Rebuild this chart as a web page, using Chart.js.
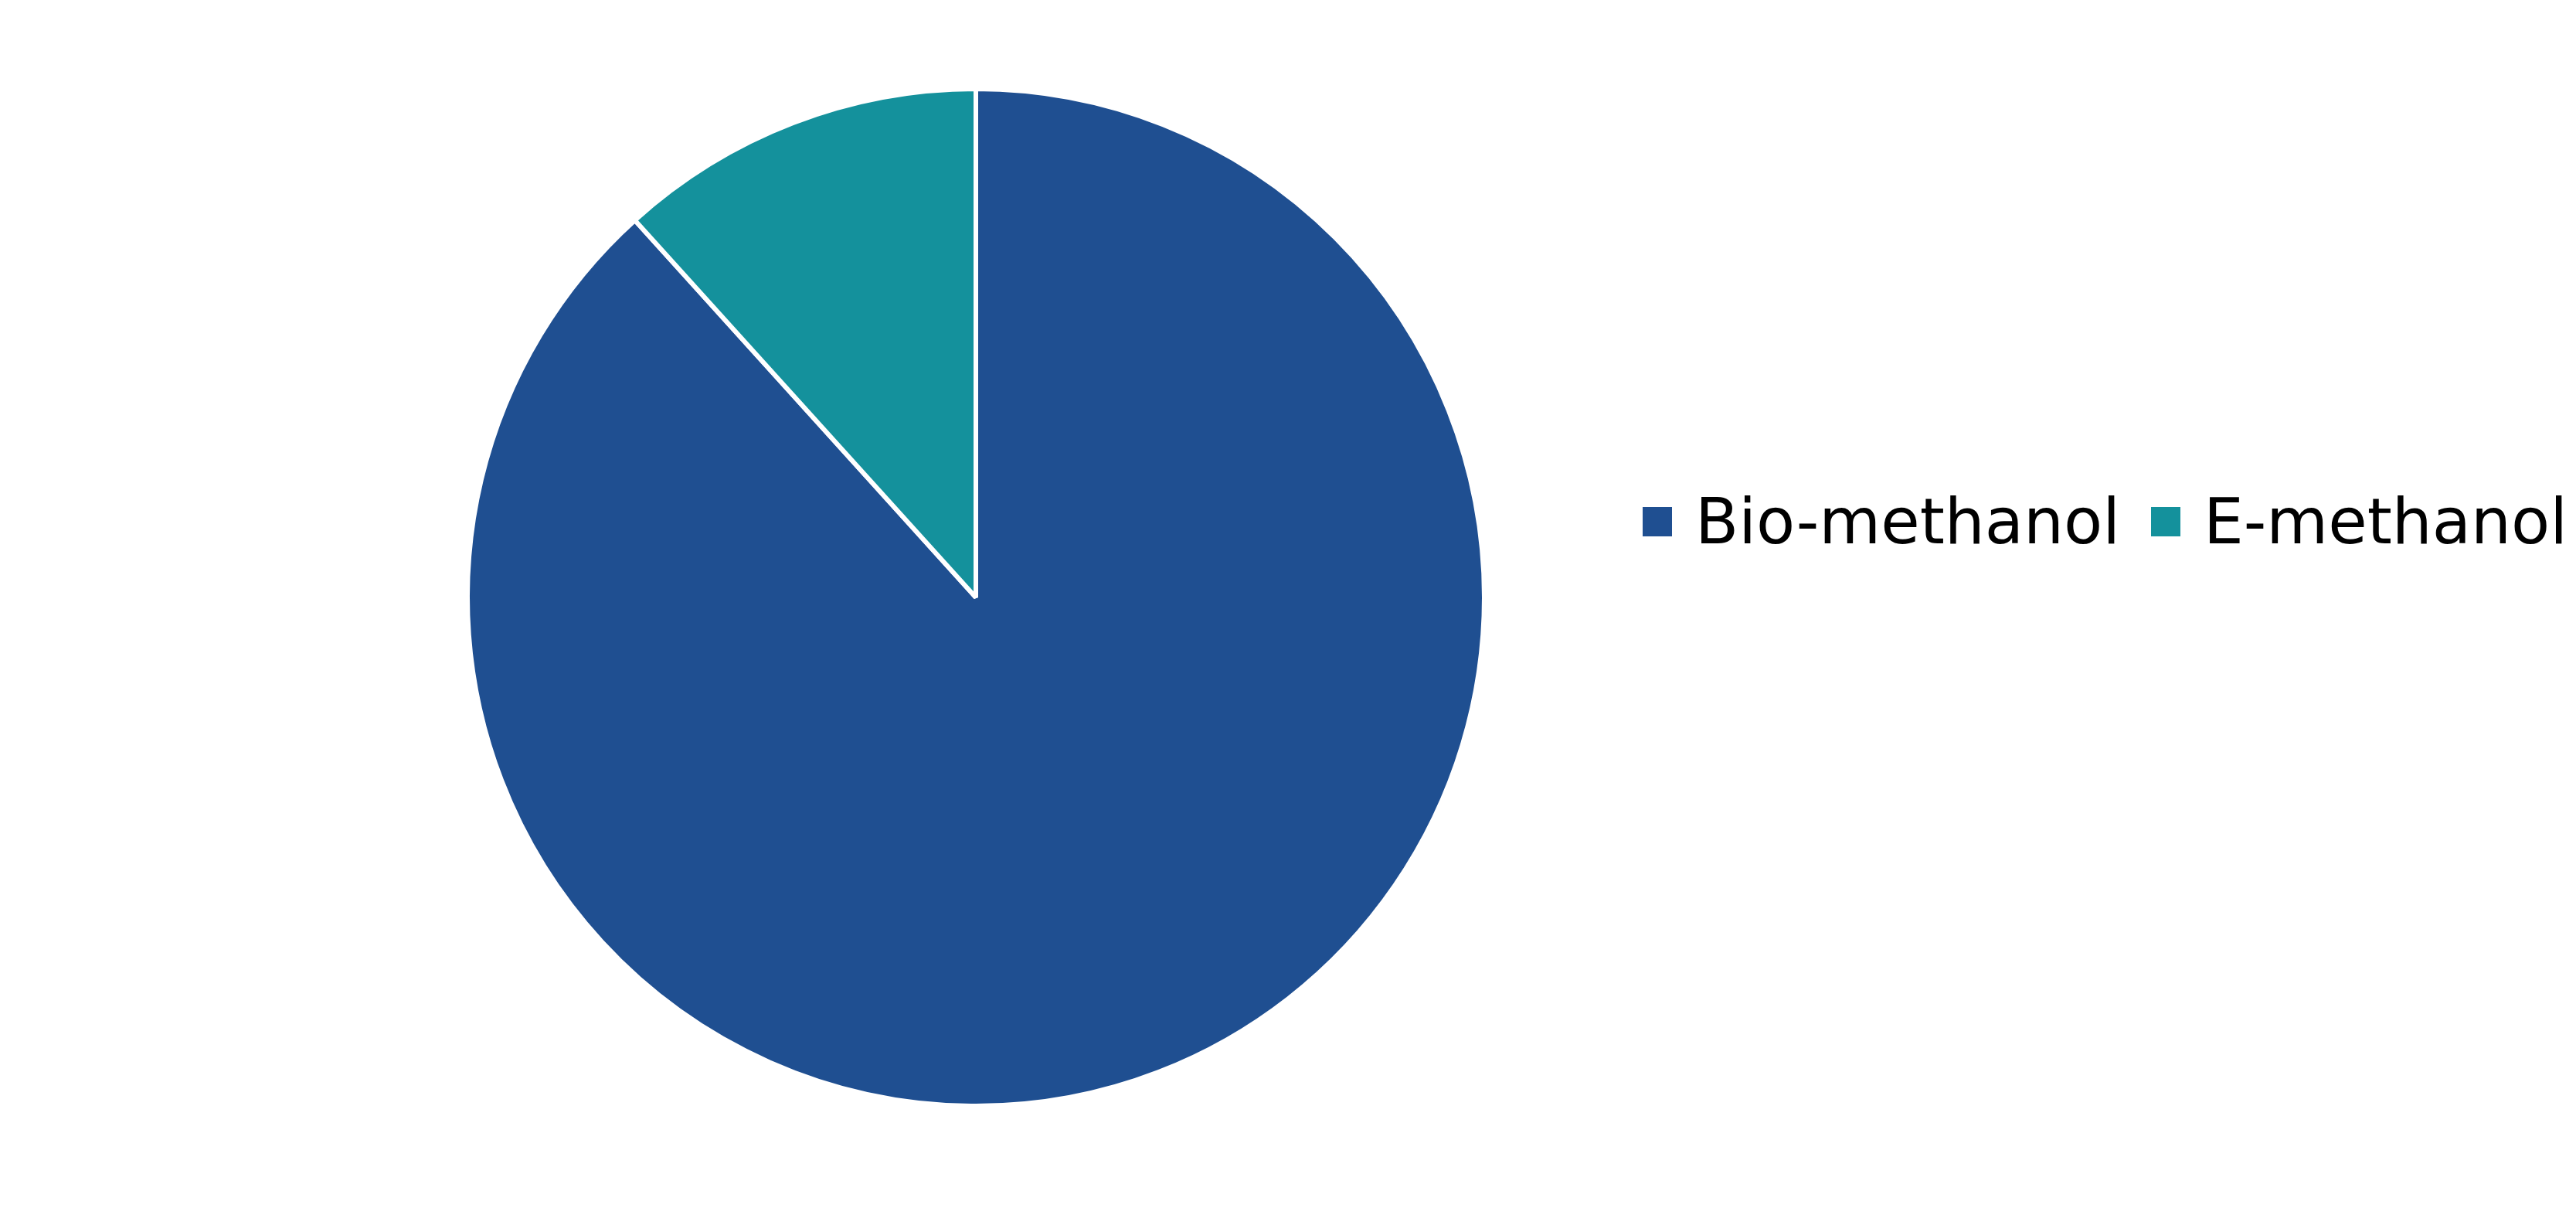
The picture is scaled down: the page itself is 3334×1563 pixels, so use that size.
<!DOCTYPE html>
<html>
<head>
<meta charset="utf-8">
<script src="https://cdn.jsdelivr.net/npm/chart.js@4"></script>
<style>
    html, body { margin: 0; padding: 0; background: #fff; }
    #wrap { position: relative; width: 3334px; height: 1563px; }
    #legend {
        position: absolute;
        left: 2126px;
        top: 634px;
        height: 82px;
        display: flex;
        align-items: center;
        font-family: 'DejaVu Sans', Verdana, sans-serif;
        font-size: 82px;
        line-height: 82px;
        color: #000;
        white-space: nowrap;
    }
    .item { display: flex; align-items: center; margin-right: 40px; }
    .swatch { width: 38px; height: 38px; margin-right: 30px; }
</style>
</head>
<body>
<div id="wrap">
    <canvas id="methanolChart" width="3334" height="1563"></canvas>
    <div id="legend"></div>
</div>
<script>
// Data
const labels = ['Bio-methanol', 'E-methanol'];
const shares = [88.3, 11.7];
const sliceColors = ['#1f4f91', '#14919c'];

const ctx = document.getElementById('methanolChart').getContext('2d');
const methanolChart = new Chart(ctx, {
    type: 'pie',
    data: {
        labels: labels,
        datasets: [{
            data: shares,
            backgroundColor: sliceColors,
            borderColor: '#ffffff',
            borderWidth: 6
        }]
    },
    options: {
        responsive: false,
        animation: false,
        radius: 658,
        layout: {
            padding: { left: 606, right: 1414, top: 116, bottom: 133 }
        },
        plugins: {
            legend: { display: false },
            tooltip: { enabled: false }
        }
    }
});

// Legend, built from the same arrays
const legendEl = document.getElementById('legend');
labels.forEach((label, i) => {
    const item = document.createElement('div');
    item.className = 'item';
    const sw = document.createElement('span');
    sw.className = 'swatch';
    sw.style.background = sliceColors[i];
    const txt = document.createElement('span');
    txt.textContent = label;
    item.appendChild(sw);
    item.appendChild(txt);
    legendEl.appendChild(item);
});
</script>
</body>
</html>
